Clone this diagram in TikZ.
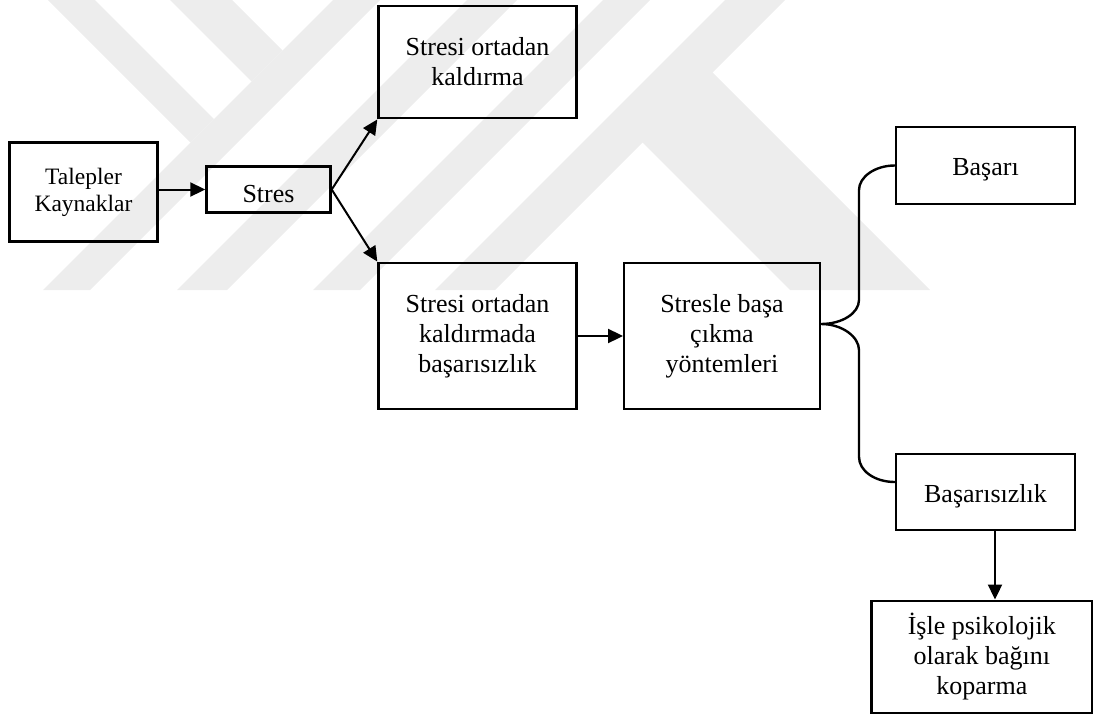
\documentclass[tikz,border=0pt]{standalone}
\usepackage{fontspec}
\setmainfont{Liberation Serif}
\usetikzlibrary{arrows.meta,calc}
\begin{document}
\begin{tikzpicture}[x=1pt,y=-1pt,
  box/.style={draw=black,line width=2.4pt,rectangle,inner sep=0pt,align=center,font=\fontsize{26}{30}\selectfont},
  oneline/.style={text depth=0pt,text height=#1},
  conn/.style={line width=2pt,-{Triangle[length=15pt,width=14pt]}},
  bracestyle/.style={line width=2.4pt},
  wm/.style={fill=black!7,draw=none}]
\useasboundingbox (0,0) rectangle (1093,715);
% faint watermark
\begin{scope}
\clip (0,0) rectangle (1093,290);
\fill[wm] (48,0)--(95,0)--(214,119)--(190.5,142.5)--cycle;
\fill[wm] (170,0)--(232,0)--(282.5,50.5)--(251.5,81.5)--cycle;
\fill[wm] (333,0)--(380,0)--(90,290)--(43,290)--cycle;
\fill[wm] (467,0)--(517,0)--(227,290)--(177,290)--cycle;
\fill[wm] (603,0)--(650,0)--(360,290)--(313,290)--cycle;
\fill[wm] (725,0)--(785,0)--(495,290)--(435,290)--cycle;
\fill[wm] (640,140)--(710,70)--(930,290)--(790,290)--cycle;
\end{scope}
% boxes
\node[box,minimum width=148pt,minimum height=99pt,font=\fontsize{23.5}{27}\selectfont] (tk) at (83.5,192) {Talepler\\Kaynaklar};
\node[box,oneline=25pt,minimum width=124pt,minimum height=46pt] (st) at (268.5,189.5) {Stres};
\node[box,minimum width=198pt,minimum height=112.5pt] (sok) at (477.5,62) {Stresi ortadan\\kaldırma};
\node[box,minimum width=198pt,minimum height=146.5pt] (sokb) at (477.5,336) {Stresi ortadan\\kaldırmada\\başarısızlık};
\node[box,minimum width=195.5pt,minimum height=146.5pt] (sbc) at (722,336) {Stresle başa\\çıkma\\yöntemleri};
\node[box,oneline=19pt,minimum width=179pt,minimum height=77pt] (bas) at (985.5,165.5) {Başarı};
\node[box,oneline=20pt,minimum width=179pt,minimum height=76pt] (basz) at (985.5,492) {Başarısızlık};
\node[box,minimum width=220.5pt,minimum height=112.5pt] (isle) at (981.8,657) {İşle psikolojik\\olarak bağını\\koparma};
% connectors
\draw[conn] (tk.east |- st.west) -- (st.west);
\draw[conn] (st.east) -- (sok.south west);
\draw[conn] (st.east) -- (sokb.north west);
\draw[conn] (sokb.east |- sbc.west) -- (sbc.west);
\draw[conn] ([xshift=9.5pt]basz.south) -- ([xshift=9.5pt]basz.south |- isle.north);
% brace
\coordinate (bt) at ([yshift=12pt]sbc.east);
\draw[bracestyle] (bas.west) .. controls +(-20,0) and +(0,-13) .. (859,190) -- (859,300)
  .. controls +(0,13) and +(21.5,0) .. (bt)
  .. controls +(21.5,0) and +(0,-13) .. (859,350) -- (859,457)
  .. controls +(0,13.8) and +(-20,0) .. ([yshift=10pt]basz.west);
\end{tikzpicture}
\end{document}
